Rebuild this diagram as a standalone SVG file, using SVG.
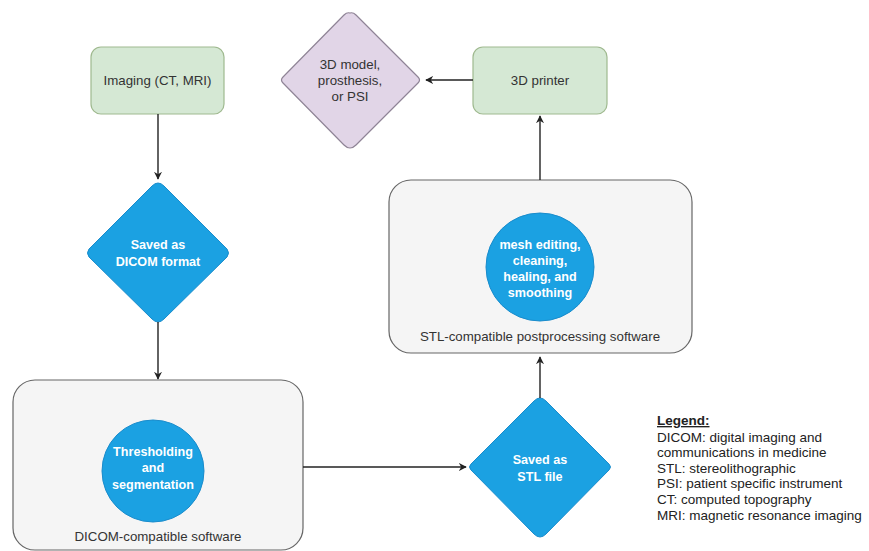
<svg xmlns="http://www.w3.org/2000/svg" width="869" height="551" viewBox="0 0 869 551">
<defs>
<style>
.green{fill:#d5e8d4;stroke:#9fb98f;stroke-width:1.2}
.purple{fill:#e1d5e7;stroke:#8f8496;stroke-width:1.2}
.blue{fill:#1ba1e2;stroke:#1a8ccc;stroke-width:1}
.cont{fill:#f5f5f5;stroke:#666;stroke-width:1.2}
.t{font-family:"Liberation Sans",Arial,sans-serif;font-size:13.3px;fill:#333;text-anchor:middle}
.w{font-family:"Liberation Sans",Arial,sans-serif;font-size:12.6px;font-weight:bold;fill:#fff;text-anchor:middle}
.lg{font-family:"Liberation Sans",Arial,sans-serif;font-size:13.5px;fill:#222}
.edge{stroke:#222;stroke-width:1.4;fill:none;marker-end:url(#ah)}
</style>
<marker id="ah" viewBox="0 0 10 10" refX="9" refY="5" markerWidth="8" markerHeight="8" markerUnits="userSpaceOnUse" orient="auto">
<path d="M0,0 L10,5 L0,10 L3,5 Z" fill="#222"/>
</marker>
</defs>
<rect width="869" height="551" fill="#fff"/>

<g id="dicom-software">
<rect class="cont" x="13" y="380" width="290" height="170" rx="22"/>
<text class="t" x="158" y="541">DICOM-compatible software</text>
</g>
<g id="stl-software">
<rect class="cont" x="389" y="180" width="303" height="173" rx="22"/>
<text class="t" x="540" y="341">STL-compatible postprocessing software</text>
</g>

<g id="imaging">
<rect class="green" x="91" y="47" width="133" height="67" rx="10"/>
<text class="t" x="157.5" y="85">Imaging (CT, MRI)</text>
</g>
<g id="model">
<path class="purple" d="M350,13 Q353,12 356,15 L418,77 Q421,80 418,83 L356,145 Q353,148 350,148 Q347,148 344,145 L283,83 Q280,80 283,77 L344,15 Q347,12 350,13 Z"/>
<text class="t" x="350" y="69">3D model,</text>
<text class="t" x="350" y="85">prosthesis,</text>
<text class="t" x="350" y="101">or PSI</text>
</g>
<g id="printer">
<rect class="green" x="473" y="47" width="134" height="67" rx="10"/>
<text class="t" x="540" y="85">3D printer</text>
</g>
<g id="dicom-format">
<path class="blue" d="M158,183 Q161,183 164,186 L227,249 Q230,253 227,257 L164,319 Q161,322 158,322 Q155,322 152,319 L89,257 Q86,253 89,249 L152,186 Q155,183 158,183 Z"/>
<text class="w" x="158" y="249">Saved as</text>
<text class="w" x="158" y="266">DICOM format</text>
</g>
<g id="threshold">
<circle class="blue" cx="153" cy="471" r="51"/>
<text class="w" x="153" y="456">Thresholding</text>
<text class="w" x="153" y="472">and</text>
<text class="w" x="153" y="489">segmentation</text>
</g>
<g id="stl-file">
<path class="blue" d="M540,398 Q543,398 546,401 L609,464 Q612,467 609,470 L546,534 Q543,537 540,537 Q537,537 534,534 L471,470 Q468,467 471,464 L534,401 Q537,398 540,398 Z"/>
<text class="w" x="540" y="464">Saved as</text>
<text class="w" x="540" y="481">STL file</text>
</g>
<g id="mesh">
<circle class="blue" cx="540" cy="267" r="54"/>
<text class="w" x="540" y="249">mesh editing,</text>
<text class="w" x="540" y="265">cleaning,</text>
<text class="w" x="540" y="281">healing, and</text>
<text class="w" x="540" y="297">smoothing</text>
</g>

<g id="connectors">
<path class="edge" d="M158,114 L158,179"/>
<path class="edge" d="M158,322 L158,379"/>
<path class="edge" d="M303,467 L466,467"/>
<path class="edge" d="M540,398 L540,357"/>
<path class="edge" d="M540,180 L540,116"/>
<path class="edge" d="M473,80 L426,80"/>
</g>

<g id="legend">
<text class="lg" x="657" y="425" font-weight="bold" text-decoration="underline">Legend:</text>
<text class="lg" x="657" y="442">DICOM: digital imaging and</text>
<text class="lg" x="657" y="457">communications in medicine</text>
<text class="lg" x="657" y="473">STL: stereolithographic</text>
<text class="lg" x="657" y="488">PSI: patient specific instrument</text>
<text class="lg" x="657" y="504">CT: computed topography</text>
<text class="lg" x="657" y="520">MRI: magnetic resonance imaging</text>
</g>
</svg>
